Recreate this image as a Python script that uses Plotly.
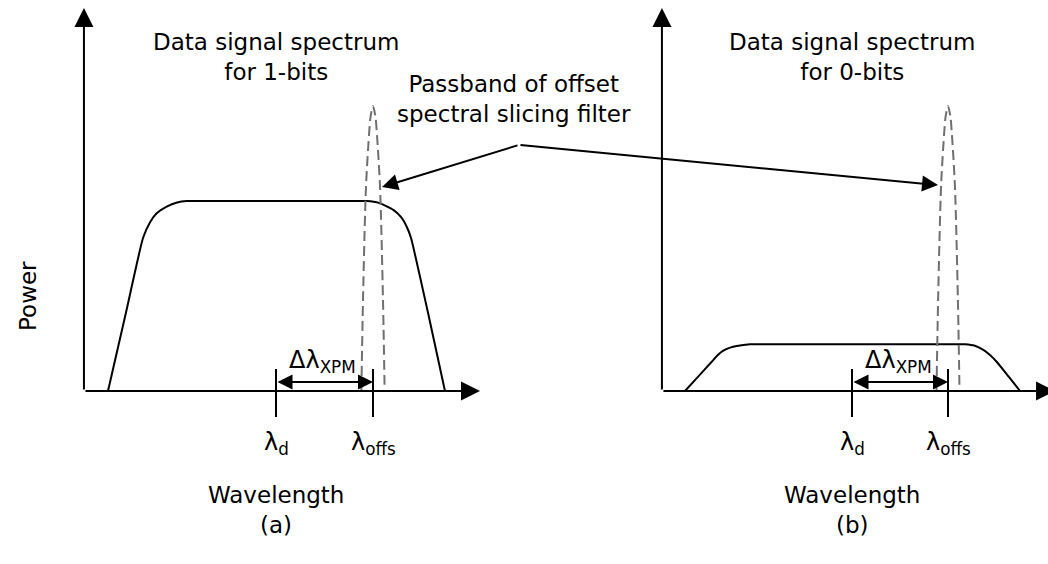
import plotly.graph_objects as go

# Wavelength in units of the XPM offset (lambda_d = 0, lambda_offs = 1);
# power normalised to the flat top of the 1-bit spectrum.
lam_1bits = [-1.732, -1.55, -1.371, -1.300, -1.230, -1.127, -1.020, -0.921, -0.75, 0.0,
             0.75, 0.935, 1.060, 1.209, 1.290, 1.350, 1.392, 1.57, 1.742]
pow_1bits = [0.0, 0.405, 0.805, 0.887, 0.935, 0.970, 0.992, 1.0, 1.0, 1.0,
             1.0, 1.0, 0.990, 0.953, 0.915, 0.862, 0.805, 0.405, 0.0]

lam_0bits = [-1.740, -1.60, -1.461, -1.400, -1.341, -1.270, -1.201, -1.062, -0.9, 0.0,
             0.9, 1.177, 1.280, 1.368, 1.440, 1.507, 1.63, 1.750]
pow_0bits = [0.0, 0.077, 0.154, 0.188, 0.212, 0.228, 0.237, 0.246, 0.246, 0.246,
             0.246, 0.246, 0.238, 0.216, 0.188, 0.154, 0.077, 0.0]

# Passband of the offset spectral slicing filter (centred on lambda_offs)
lam_filter = [0.880, 0.897, 0.928, 0.962, 0.974, 1.0, 1.026, 1.038, 1.072, 1.103, 1.120]
pow_filter = [0.0, 0.48, 1.08, 1.37, 1.44, 1.50, 1.44, 1.37, 1.08, 0.48, 0.0]

tick_lam = [0.0, 1.0]
tick_text = ["λ<sub>d</sub>", "λ<sub>offs</sub>"]
panel_titles = ["Data signal spectrum<br>for 1-bits", "Data signal spectrum<br>for 0-bits"]
panel_labels = ["(a)", "(b)"]

FONT = "DejaVu Sans"
FS = 23
BLACK = "#000000"
GREY = "#707070"

fig = go.Figure()

panels = [("x", "y", lam_1bits, pow_1bits), ("x2", "y2", lam_0bits, pow_0bits)]
annotations = []

for i, (xa, ya, lam, pw) in enumerate(panels):
    # spectrum
    fig.add_trace(go.Scatter(x=lam, y=pw, xaxis=xa, yaxis=ya, mode="lines",
                             line=dict(color=BLACK, width=2, shape="spline", smoothing=0.5),
                             hoverinfo="skip"))
    # filter passband
    fig.add_trace(go.Scatter(x=lam_filter, y=pow_filter, xaxis=xa, yaxis=ya, mode="lines",
                             line=dict(color=GREY, width=2, dash="10px,5px", shape="spline",
                                       smoothing=0.8),
                             hoverinfo="skip"))
    # wavelength markers
    tx, ty = [], []
    for t in tick_lam:
        tx += [t, t, None]
        ty += [-0.137, 0.116, None]
    fig.add_trace(go.Scatter(x=tx, y=ty, xaxis=xa, yaxis=ya, mode="lines",
                             line=dict(color=BLACK, width=2), hoverinfo="skip"))

    origin = -1.98
    x_tip = 2.103 if i == 0 else 2.115
    # axes with arrow heads
    annotations.append(dict(xref=xa, yref=ya, axref=xa, ayref=ya, x=x_tip, y=0,
                            ax=origin, ay=0, text="", showarrow=True, arrowhead=2,
                            arrowsize=1.9, arrowwidth=2, arrowcolor=BLACK))
    annotations.append(dict(xref=xa, yref=ya, axref=xa, ayref=ya, x=origin, y=2.016,
                            ax=origin, ay=0, text="", showarrow=True, arrowhead=2,
                            arrowsize=1.9, arrowwidth=2, arrowcolor=BLACK))
    # delta lambda double arrow
    annotations.append(dict(xref=xa, yref=ya, axref=xa, ayref=ya, x=tick_lam[1], y=0.047,
                            ax=tick_lam[0], ay=0.047, text="", showarrow=True, arrowhead=2,
                            arrowside="end+start", arrowsize=1.5, arrowwidth=2,
                            arrowcolor=BLACK))
    annotations.append(dict(xref=xa, yref=ya, x=0.48, y=0.155, text="Δλ<sub>XPM</sub>",
                            showarrow=False, font=dict(family=FONT, size=FS + 1, color=BLACK)))
    for t, lab in zip(tick_lam, tick_text):
        annotations.append(dict(xref=xa, yref=ya, x=t, y=-0.275, text=lab, showarrow=False,
                                font=dict(family=FONT, size=FS + 1, color=BLACK)))
    annotations.append(dict(xref=xa, yref=ya, x=0.0, y=-0.547, text="Wavelength",
                            showarrow=False, font=dict(family=FONT, size=FS, color=BLACK)))
    annotations.append(dict(xref=xa, yref=ya, x=0.0, y=-0.705, text=panel_labels[i],
                            showarrow=False, font=dict(family=FONT, size=FS, color=BLACK)))
    annotations.append(dict(xref=xa, yref=ya, x=0.0, y=1.758, text=panel_titles[i],
                            showarrow=False, font=dict(family=FONT, size=FS, color=BLACK)))

# y-axis title
annotations.append(dict(xref="x", yref="y", x=-2.557, y=0.5, text="Power", textangle=-90,
                        showarrow=False, font=dict(family=FONT, size=FS, color=BLACK)))

# shared callout for the filter passband
annotations.append(dict(xref="x", yref="y", x=2.45, y=1.535,
                        text="Passband of offset<br>spectral slicing filter",
                        showarrow=False, font=dict(family=FONT, size=FS, color=BLACK)))
annotations.append(dict(xref="x", yref="y", axref="x", ayref="y", x=1.093, y=1.074,
                        ax=2.505, ay=1.295, text="", showarrow=True, arrowhead=2,
                        arrowsize=1.6, arrowwidth=2, arrowcolor=BLACK))
annotations.append(dict(xref="x2", yref="y2", axref="x2", ayref="y2", x=0.896, y=1.084,
                        ax=-3.469, ay=1.295, text="", showarrow=True, arrowhead=2,
                        arrowsize=1.6, arrowwidth=2, arrowcolor=BLACK))

axis_common = dict(visible=False, showgrid=False, zeroline=False, fixedrange=True)
fig.update_layout(
    width=1048, height=564,
    margin=dict(l=0, r=0, t=0, b=0),
    paper_bgcolor="white", plot_bgcolor="white",
    showlegend=False,
    font=dict(family=FONT, size=FS, color=BLACK),
    xaxis=dict(domain=[0, 0.5], range=[-276 / 97, 248 / 97], anchor="y", **axis_common),
    yaxis=dict(domain=[0, 1], range=[-173 / 190, 391 / 190], anchor="x", **axis_common),
    xaxis2=dict(domain=[0.5, 1], range=[-328 / 96, 196 / 96], anchor="y2", **axis_common),
    yaxis2=dict(domain=[0, 1], range=[-173 / 190, 391 / 190], anchor="x2", **axis_common),
    annotations=annotations,
)

fig.write_html("out.html")
